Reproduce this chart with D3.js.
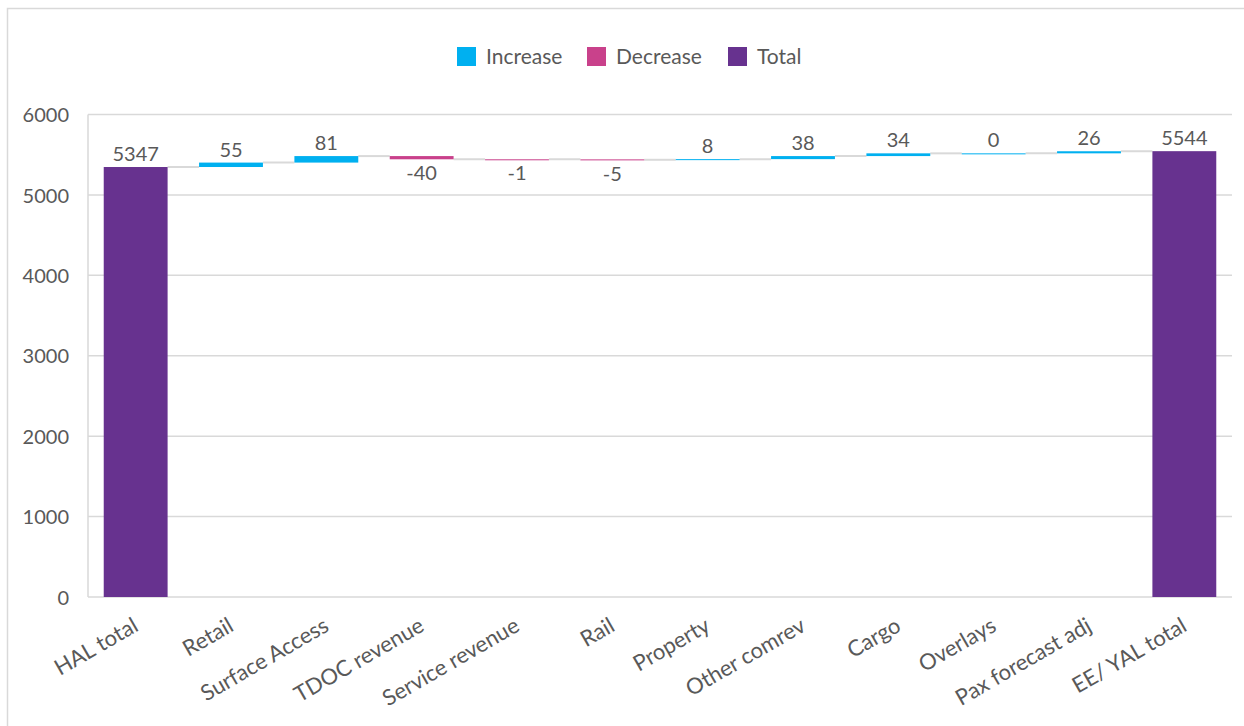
<!DOCTYPE html>
<html>
<head>
<meta charset="utf-8">
<script src="https://cdn.jsdelivr.net/npm/d3@7"></script>
<style>
  body { margin: 0; background: #fff; }
  svg { display: block; font-family: Lato, "Open Sans", sans-serif; }
  .tick text { fill: #595959; }
</style>
</head>
<body>
<div id="chart"></div>
<script>
// waterfall data
var categories = ["HAL total", "Retail", "Surface Access", "TDOC revenue", "Service revenue", "Rail",
                  "Property", "Other comrev", "Cargo", "Overlays", "Pax forecast adj", "EE/ YAL total"];
var values = [5347, 55, 81, -40, -1, -5, 8, 38, 34, 0, 26, 5544];
var kinds = ["total", "increase", "increase", "decrease", "decrease", "decrease",
             "increase", "increase", "increase", "increase", "increase", "total"];
var yTicks = [0, 1000, 2000, 3000, 4000, 5000, 6000];
var legendKeys = ["Increase", "Decrease", "Total"];

var colors = { increase: "#00B0F0", decrease: "#C9418B", total: "#67328F" };
var gridColor = "#D9D9D9";
var textColor = "#595959";

var W = 1244, H = 726;
var margin = { left: 88, right: 12, top: 114.5, bottom: 129 };

var svg = d3.select("#chart").append("svg")
    .attr("width", W)
    .attr("height", H);

// chart border
svg.append("rect")
    .attr("x", 7.5).attr("y", 8.5)
    .attr("width", W + 20).attr("height", H + 20)
    .attr("fill", "none")
    .attr("stroke", gridColor)
    .attr("stroke-width", 1.5);

var x = d3.scaleBand()
    .domain(categories)
    .range([margin.left, W - margin.right])
    .paddingInner(0.33)
    .paddingOuter(0.165);

var y = d3.scaleLinear()
    .domain([0, 6000])
    .range([H - margin.bottom, margin.top]);

// running totals -> start / end of each bar
var running = 0;
var bars = categories.map(function(c, i) {
    var v = values[i], start, end;
    if (kinds[i] == "total") {
        start = 0; end = v; running = v;
    } else {
        start = running; end = running + v; running = end;
    }
    return { cat: c, value: v, kind: kinds[i], start: start, end: end };
});

// gridlines
svg.append("g")
    .selectAll("line")
    .data(yTicks)
    .enter().append("line")
    .attr("x1", margin.left)
    .attr("x2", W - margin.right)
    .attr("y1", function(d) { return y(d); })
    .attr("y2", function(d) { return y(d); })
    .attr("stroke", gridColor)
    .attr("stroke-width", 1.5);

// left axis line
svg.append("line")
    .attr("x1", margin.left).attr("x2", margin.left)
    .attr("y1", y(6000)).attr("y2", y(0))
    .attr("stroke", gridColor)
    .attr("stroke-width", 1.5);

// y axis labels
var yAxis = svg.append("g")
    .attr("transform", "translate(" + (margin.left - 19) + ",0)")
    .call(d3.axisLeft(y).tickValues(yTicks).tickFormat(d3.format("d")).tickSize(0).tickPadding(0));
yAxis.attr("font-family", null);
yAxis.select(".domain").remove();
yAxis.selectAll("text")
    .attr("font-size", 20)
    .attr("dy", "0.36em");

// x axis labels
var xAxis = svg.append("g")
    .attr("transform", "translate(0," + y(0) + ")")
    .call(d3.axisBottom(x).tickSize(0).tickPadding(0));
xAxis.attr("font-family", null);
xAxis.select(".domain").remove();
xAxis.selectAll("text")
    .attr("font-size", 22)
    .attr("text-anchor", "end")
    .attr("y", 0)
    .attr("dy", 0)
    .attr("transform", "translate(4,33) rotate(-30)");

// connectors
svg.append("g")
    .selectAll("line")
    .data(bars.slice(0, -1))
    .enter().append("line")
    .attr("x1", function(d) { return x(d.cat) + x.bandwidth(); })
    .attr("x2", function(d, i) { return x(categories[i + 1]); })
    .attr("y1", function(d) { return y(d.end); })
    .attr("y2", function(d) { return y(d.end); })
    .attr("stroke", gridColor)
    .attr("stroke-width", 2);

// bars
svg.append("g")
    .selectAll("rect")
    .data(bars)
    .enter().append("rect")
    .attr("x", function(d) { return x(d.cat); })
    .attr("width", x.bandwidth())
    .attr("y", function(d) { return y(Math.max(d.start, d.end)); })
    .attr("height", function(d) { return Math.max(Math.abs(y(d.start) - y(d.end)), 1); })
    .attr("fill", function(d) { return colors[d.kind]; });

// value labels
svg.append("g")
    .selectAll("text")
    .data(bars)
    .enter().append("text")
    .attr("x", function(d) { return x(d.cat) + x.bandwidth() / 2; })
    .attr("y", function(d) {
        if (d.value < 0) return y(Math.min(d.start, d.end)) + 21;
        return y(Math.max(d.start, d.end)) - 6;
    })
    .attr("text-anchor", "middle")
    .attr("font-size", 20)
    .attr("fill", textColor)
    .text(function(d) { return d.value; });

// legend
var legendX = [457, 587, 728];
var legend = svg.append("g");
legendKeys.forEach(function(k, i) {
    legend.append("rect")
        .attr("x", legendX[i]).attr("y", 47)
        .attr("width", 19).attr("height", 19)
        .attr("fill", colors[k.toLowerCase()]);
    legend.append("text")
        .attr("x", legendX[i] + 29).attr("y", 56.5)
        .attr("dy", "0.36em")
        .attr("font-size", 21)
        .attr("fill", textColor)
        .text(k);
});
</script>
</body>
</html>
